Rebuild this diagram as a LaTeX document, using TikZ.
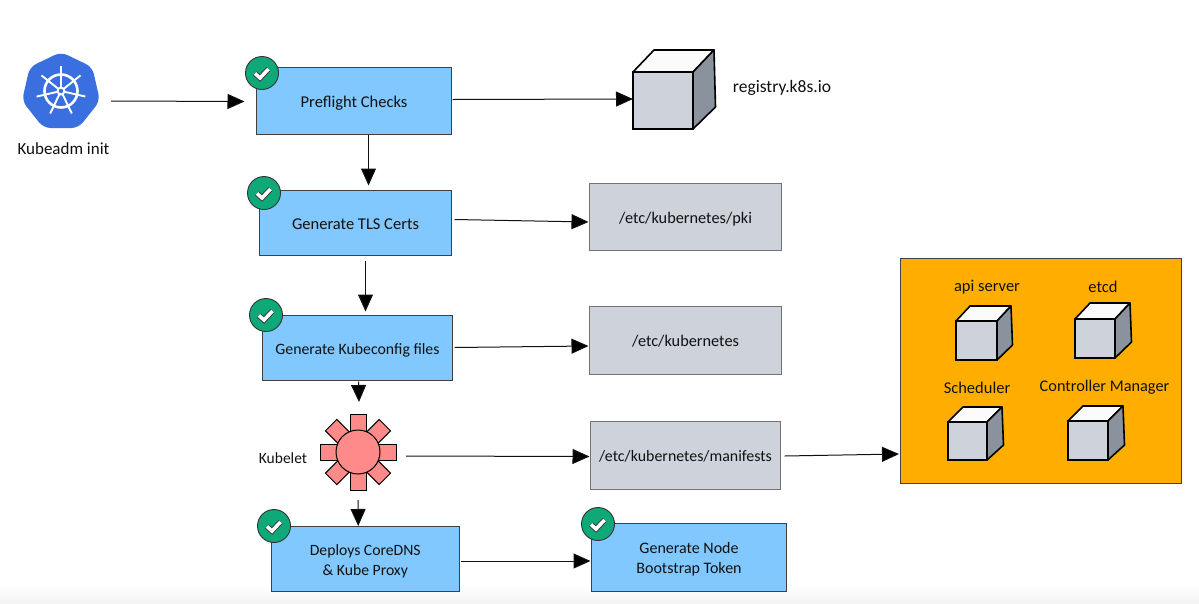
\documentclass[tikz,border=0pt]{standalone}
\usepackage{fontspec}
\setmainfont{Carlito}
\usetikzlibrary{arrows.meta,calc,shapes.geometric}
\definecolor{boxblue}{HTML}{80C8FF}
\definecolor{boxgray}{HTML}{CDD2DB}
\definecolor{boxorange}{HTML}{FFAE00}
\definecolor{badgegreen}{HTML}{0FA878}
\definecolor{cubeside}{HTML}{8A929D}
\definecolor{gearred}{HTML}{FF8A8A}
\definecolor{k8sblue}{HTML}{3A6FE0}
\definecolor{inkdark}{HTML}{111111}
\definecolor{bottomfade}{HTML}{F3F3F3}
\tikzset{
  every node/.style={text=inkdark,font=\fontsize{16.5}{20}\selectfont},
  bluebox/.style={draw=black!75,line width=0.9pt,fill=boxblue,anchor=north west,inner sep=0,outer sep=0,align=center},
  graybox/.style={draw=black!55,line width=0.8pt,fill=boxgray,anchor=north west,inner sep=0,outer sep=0,align=center},
  arr/.style={draw=inkdark,line width=1pt,-{Triangle[length=17pt,width=15pt,fill=black]}},
  badgecircle/.style={circle,draw=black!80,line width=0.9pt,fill=badgegreen,minimum size=33pt,inner sep=0},
  cubefront/.style={draw=black,line width=1.6pt,fill=boxgray,inner sep=0,outer sep=0,anchor=north west},
  cubeedge/.style={draw=black,line width=1.6pt,line join=round},
  petal/.style={draw=black,line width=1pt,fill=gearred},
}
% name, x, y, w, h, dx, dy
\newcommand{\mycube}[7]{%
  \node[cubefront,minimum width=#4pt,minimum height=#5pt] (#1) at (#2,#3) {};
  \draw[cubeedge,fill=white!97!gray] (#1.north west) -- ++(#6,-#7) -- ++(#4,0) -- (#1.north east) -- cycle;
  \draw[cubeedge,fill=cubeside] (#1.north east) -- ++(#6,-#7) -- ++(1.5,#5) -- (#1.south east) -- cycle;
}
\newcommand{\mybox}[7]{%
  \node[#2,minimum width=#5pt,minimum height=#6pt] (#1) at (#3,#4) {#7};
}
\newcommand{\mylbl}[2]{\fontsize{#1}{20}\selectfont\rule{0pt}{16pt}#2\rule[-3pt]{0pt}{3pt}}
\newcommand{\mybadge}[3]{%
  \node[badgecircle] (#1) at (#2,#3) {};
  \draw[black!80,line width=5.4pt,line join=miter] ($(#1.center)+(-7,0.5)$) -- ++(5,4.5) -- ++(8.5,-9);
  \draw[white,line width=3.6pt,line join=miter] ($(#1.center)+(-7,0.5)$) -- ++(5,4.5) -- ++(8.5,-9);
}
\begin{document}
\begin{tikzpicture}[x=1pt,y=-1pt]
\useasboundingbox (0,0) rectangle (1199,603);
\fill[white] (0,0) rectangle (1199,603);
\shade[top color=white,bottom color=bottomfade] (0,585) rectangle (1199,603);

% logo
\node[regular polygon,regular polygon sides=7,minimum size=80pt,fill=k8sblue,rounded corners=7pt,inner sep=0,outer sep=0] (logo) at (61,92) {};
\draw[white,line width=2.6pt] (logo.center) ++(0,-1) circle (16.5);
\foreach \a in {90,141.4,192.8,244.3,295.7,347.1,38.6}{
  \draw[white,line width=1.9pt] ($(logo.center)+(0,-1)$) -- ++({\a}:-25);
}
\fill[white] ($(logo.center)+(0,-1)$) circle (4.5);
\fill[k8sblue] ($(logo.center)+(0,-1)$) circle (2.2);
\node[font=\fontsize{17}{20}\selectfont] (kubeadm) at (63.5,149) {Kubeadm init};

% blue boxes
\mybox{preflight}{bluebox}{256.5}{67.5}{195}{67}{\mylbl{16.5}{Preflight Checks}}
\mybox{tls}{bluebox}{259.5}{190.5}{192}{65}{\mylbl{16.5}{Generate TLS Certs}}
\mybox{kubeconfig}{bluebox}{262.5}{315.5}{190}{65}{\mylbl{15.8}{Generate Kubeconfig files}}
\mybox{deploys}{bluebox}{271.5}{526}{187.5}{65}{\mylbl{15.7}{Deploys CoreDNS}\\\mylbl{15.7}{\& Kube Proxy}}
\mybox{bootstrap}{bluebox}{591.5}{523}{195}{68}{\mylbl{16}{Generate Node}\\\mylbl{16}{Bootstrap Token}}

% gray boxes
\mybox{pki}{graybox}{589.5}{183}{192}{67}{\mylbl{16.3}{/etc/kubernetes/pki}}
\mybox{etck}{graybox}{589.5}{306}{192}{68}{\mylbl{16.3}{/etc/kubernetes}}
\mybox{manifests}{graybox}{590.5}{421}{190}{68}{\mylbl{15.9}{/etc/kubernetes/manifests}}

% orange panel
\node[draw=black!75,line width=0.9pt,fill=boxorange,anchor=north west,inner sep=0,outer sep=0,minimum width=281pt,minimum height=225pt] (panel) at (900,258) {};

% cubes
\mycube{registry}{633}{72}{60}{57}{21}{22}
\mycube{apiserver}{956}{321}{41}{39}{14}{15}
\mycube{etcd}{1075}{319}{40}{39}{15}{16}
\mycube{scheduler}{948}{422}{39}{38}{15}{15}
\mycube{controller}{1068}{421}{40}{39}{15}{15}

\node[font=\fontsize{17.5}{20}\selectfont] (registrylabel) at (782,88) {registry.k8s.io};
\node (apilabel) at (987,287) {api server};
\node (etcdlabel) at (1103,287) {etcd};
\node (schedlabel) at (977,388) {Scheduler};
\node[font=\fontsize{16.3}{20}\selectfont] (ctllabel) at (1104.5,387) {Controller Manager};

% kubelet gear
\coordinate (kc) at (358,452);
\foreach \a in {0,45,...,315}{
  \draw[petal,rotate around={\a:(kc)}] ($(kc)+(-8,-38)$) rectangle ($(kc)+(8,-15)$);
}
\node[circle,draw=black,line width=1pt,fill=gearred,minimum size=44pt,inner sep=0,outer sep=0] (kubelet) at (kc) {};
\node[font=\fontsize{15.5}{20}\selectfont] (kubeletlabel) at (283,458) {Kubelet};

% badges
\mybadge{b1}{262}{73}
\mybadge{b2}{264}{193}
\mybadge{b3}{266}{315}
\mybadge{b4}{274}{526}
\mybadge{b5}{598}{524}

% connectors
\draw[arr] ($(logo.center)+(50,9)$) -- ($(preflight.west)+(-12,0.5)$);
\draw[arr] ($(preflight.east)+(1,-1.5)$) -- (registry.west |- 0,99);
\draw[arr] ($(preflight.south)+(14.5,0)$) -- ($(tls.north)+(13,-5)$);
\draw[arr] ($(tls.east)+(3,-3.5)$) -- ($(pki.west)+(-1,5.5)$);
\draw[arr] ($(tls.south)+(10,5)$) -- ($(kubeconfig.north)+(8,-4)$);
\draw[arr] ($(kubeconfig.east)+(2,-0.5)$) -- ($(etck.west)+(-1,6)$);
\draw[arr] ($(kubeconfig.south)+(1,1)$) -- ($(kubelet.center)+(1,-50)$);
\draw[arr] ($(kubelet.center)+(48,4)$) -- ($(manifests.west)+(-1,1.5)$);
\draw[arr] ($(manifests.east)+(4,1)$) -- ($(panel.west)+(-1,83.5)$);
\draw[arr] ($(kubelet.center)+(0,48)$) -- ($(deploys.north)+(-7,0)$);
\draw[arr] ($(deploys.east)+(2,2.5)$) -- ($(bootstrap.west)+(-1,4)$);
\end{tikzpicture}
\end{document}
